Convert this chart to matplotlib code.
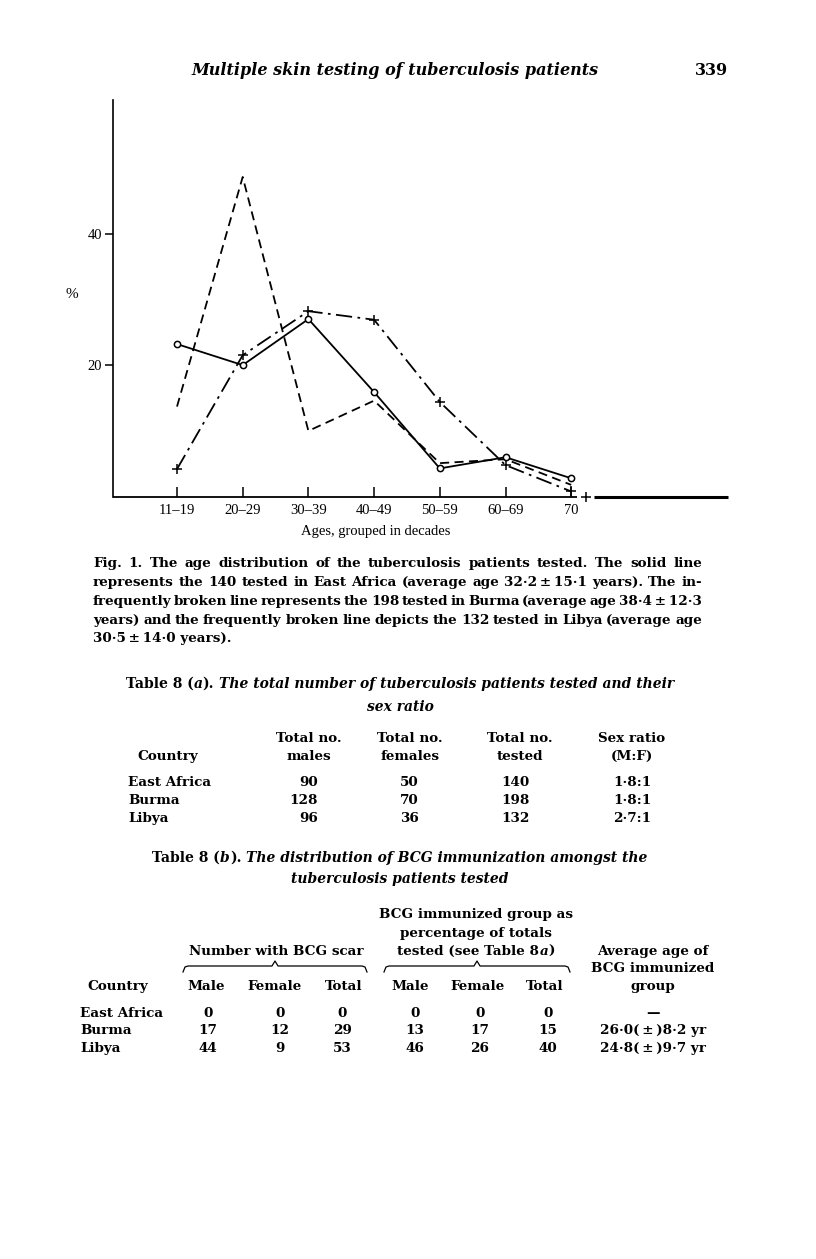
import matplotlib
matplotlib.use("Agg")
import matplotlib.pyplot as plt

W, H = 816, 1259

# ---- figure data (percent of patients per age group) ----
ages = ["11–19", "20–29", "30–39", "40–49", "50–59", "60–69", "70"]
east_africa = [23.2, 20.0, 27.0, 15.9, 4.3, 6.0, 2.8]
burma = [4.2, 21.5, 28.2, 26.9, 14.4, 4.8, 0.8]
libya = [13.7, 48.6, 10.0, 14.6, 5.1, 5.7, 1.8]
stray_plus_x = [6.23]   # lone "+" sitting on the axis past 70
stray_plus_y = [0.0]
y_ticks = [20, 40]

# ---- caption ----
caption_lines = [
    "Fig. 1. The age distribution of the tuberculosis patients tested. The solid line",
    "represents the 140 tested in East Africa (average age 32·2\u2009±\u200915·1 years). The in-",
    "frequently broken line represents the 198 tested in Burma (average age 38·4\u2009±\u200912·3",
    "years) and the frequently broken line depicts the 132 tested in Libya (average age",
    "30·5\u2009±\u200914·0 years).",
]

# ---- table 8(a) ----
countries = ["East Africa", "Burma", "Libya"]
males = [90, 128, 96]
females = [50, 70, 36]
tested = [140, 198, 132]
sex_ratio = ["1·8:1", "1·8:1", "2·7:1"]

# ---- table 8(b) ----
bcg_male = [0, 17, 44]
bcg_female = [0, 12, 9]
bcg_total = [0, 29, 53]
pct_male = [0, 13, 46]
pct_female = [0, 17, 26]
pct_total = [0, 15, 40]
avg_age = ["—", "26·0(\u2009±\u2009)8·2 yr", "24·8(\u2009±\u2009)9·7 yr"]

SERIF = "DejaVu Serif"
TIMES = "Liberation Serif"
BODY = 9.7
TITLE = 10.0

fig = plt.figure(figsize=(W / 100, H / 100), dpi=100)
fig.patch.set_facecolor("white")


def px_box(left, top, right, bottom):
    return [left / W, 1 - bottom / H, (right - left) / W, (bottom - top) / H]


# chart: axis line at y=496.7px, top at 100px
x0px, dx = 177.0, 65.7
ax_l, ax_r = 113.0, 728.0
ax = fig.add_axes(px_box(ax_l, 100, ax_r, 496.7))
ax.set_xlim((ax_l - x0px) / dx, (ax_r - x0px) / dx)
ax.set_ylim(0, 60.3)
xs = list(range(len(ages)))

ax.plot(xs, east_africa, "-", color="black", lw=1.3, marker="o", ms=4.5,
        mfc="white", mec="black", mew=1.1, clip_on=False, zorder=4)
ax.plot(xs, libya, color="black", lw=1.3, dashes=(5, 3), clip_on=False, zorder=3)
ax.plot(xs, burma, color="black", lw=1.3, dashes=(9, 3, 1.5, 3), marker="+",
        ms=7, mew=1.1, clip_on=False, zorder=3)
ax.plot(stray_plus_x, stray_plus_y, "+", color="black", ms=7, mew=1.1, clip_on=False, zorder=5)

for s in ["top", "right", "bottom"]:
    ax.spines[s].set_visible(False)
ax.spines["left"].set_linewidth(1.2)
xl = ax.get_xlim()
ax.plot([xl[0], 6.09], [0, 0], color="black", lw=1.3, clip_on=False, solid_capstyle="butt")
ax.plot([6.34, xl[1]], [0, 0], color="black", lw=2.2, clip_on=False, solid_capstyle="butt")

ax.set_yticks(y_ticks)
ax.set_yticklabels([str(v) for v in y_ticks], fontfamily=TIMES, fontsize=10.5)
ax.tick_params(axis="y", direction="out", length=6, width=1.1, pad=2)
ax.set_xticks(xs)
ax.set_xticklabels(ages, fontfamily=TIMES, fontsize=10.5)
ax.tick_params(axis="x", direction="in", length=7.5, width=1.1, pad=5)
ax.patch.set_alpha(0)

# overlay in page pixels for all the page text
pg = fig.add_axes([0, 0, 1, 1])
pg.set_xlim(0, W)
pg.set_ylim(H, 0)
pg.axis("off")
pg.patch.set_alpha(0)

r = fig.canvas.get_renderer()


def put(x, y, s, ha="center", size=BODY, style="normal", weight="bold", family=SERIF):
    return pg.text(x, y, s, ha=ha, va="center_baseline", fontsize=size,
                   fontstyle=style, fontweight=weight, family=family)


def width(t):
    return t.get_window_extent(r).width


def runs(x, y, parts, ha="center", size=BODY):
    # parts: (text, style, gap after in px)
    ts = [put(0, y, s, ha="left", size=size, style=st) for s, st, g in parts]
    ws = [width(t) for t in ts]
    total = sum(ws) + sum(g for _, _, g in parts[:-1])
    cx = x - total / 2 if ha == "center" else x
    for t, w, (_, _, g) in zip(ts, ws, parts):
        t.set_x(cx)
        cx += w + g


def justify(line, xa, xb, y, size=BODY):
    words = line.split(" ")
    ts = [put(0, y, w, ha="left", size=size) for w in words]
    ws = [width(t) for t in ts]
    gap = (xb - xa - sum(ws)) / (len(words) - 1)
    cx = xa
    for t, w in zip(ts, ws):
        t.set_x(cx)
        cx += w + gap


# header
put(395, 68, "Multiple skin testing of tuberculosis patients", size=11.5, style="italic")
put(712, 68, "339", size=11.5)

# chart labels
put(72, 293, "%", size=11, family=TIMES, weight="normal")
put(376, 530, "Ages, grouped in decades", size=10.5, family=TIMES, weight="normal")

# caption
cap_y = [562, 581, 600, 619, 637]
for i, (line, y) in enumerate(zip(caption_lines, cap_y)):
    if i < len(caption_lines) - 1:
        justify(line, 93, 702, y)
    else:
        put(93, y, line, ha="left")

# table 8(a)
runs(400, 682, [("Table 8 (", "normal", 0), ("a", "italic", 0), (").", "normal", 5),
                ("The total number of tuberculosis patients tested and their", "italic", 0)],
     size=TITLE)
put(400, 705, "sex ratio", style="italic", size=TITLE)
put(137, 755, "Country", ha="left")
for cx, l1, l2 in [(309, "Total no.", "males"), (410, "Total no.", "females"),
                   (520, "Total no.", "tested"), (632, "Sex ratio", "(M:F)")]:
    put(cx, 737, l1)
    put(cx, 755, l2)
for i, y in enumerate([781, 799, 817]):
    put(128, y, countries[i], ha="left")
    put(318, y, str(males[i]), ha="right")
    put(419, y, str(females[i]), ha="right")
    put(530, y, str(tested[i]), ha="right")
    put(632, y, sex_ratio[i])

# table 8(b)
runs(400, 856, [("Table 8 (", "normal", 0), ("b", "italic", 0), (").", "normal", 5),
                ("The distribution of BCG immunization amongst the", "italic", 0)],
     size=TITLE)
put(400, 877, "tuberculosis patients tested", style="italic", size=TITLE)

put(476, 913, "BCG immunized group as")
put(476, 932, "percentage of totals")
runs(476, 950, [("tested (see Table 8", "normal", 0), ("a", "italic", 0), (")", "normal", 0)])
put(276, 950, "Number with BCG scar")
put(653, 950, "Average age of")
put(653, 967, "BCG immunized")
put(653, 985, "group")


def brace(xa, xb, tip, y):
    xs_ = [xa, xa + 2, xa + 5, tip - 3, tip, tip + 3, xb - 5, xb - 2, xb]
    ys_ = [y + 6, y + 1, y, y, y - 5, y, y, y + 1, y + 6]
    pg.plot(xs_, ys_, color="black", lw=0.9)


brace(183, 367, 275, 966)
brace(384, 570, 477, 966)

put(87, 985, "Country", ha="left")
sub_x = [206, 275, 344, 410, 478, 545]
for cx, s in zip(sub_x, ["Male", "Female", "Total", "Male", "Female", "Total"]):
    put(cx, 985, s)

val_x = [208, 280, 342, 415, 480, 548]
for i, y in enumerate([1012, 1029, 1047]):
    put(80, y, countries[i], ha="left")
    row = [bcg_male[i], bcg_female[i], bcg_total[i], pct_male[i], pct_female[i], pct_total[i]]
    for cx, v in zip(val_x, row):
        put(cx, y, str(v))
    put(653, y, avg_age[i])

fig.savefig("out.png", dpi=100, facecolor="white")
